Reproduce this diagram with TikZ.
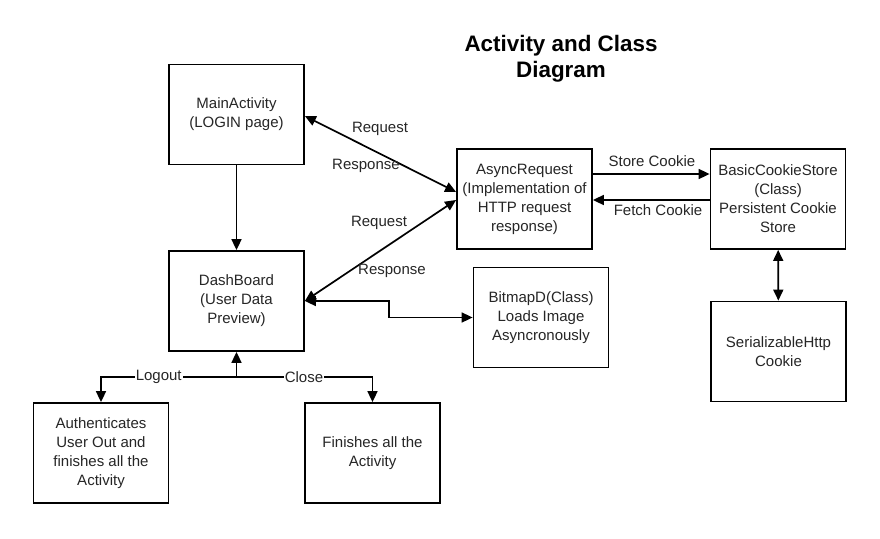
\documentclass[tikz,border=0pt]{standalone}
\usepackage{fontspec}
\setmainfont{Liberation Sans}
\usetikzlibrary{arrows.meta, positioning}
\tikzset{
  box/.style={
    draw=black, line width=1.8pt, fill=white, align=center, inner sep=2pt,
    font=\fontsize{15}{19}\selectfont, text=black!85,
    minimum width=135pt, minimum height=100pt
  },
  flow/.style={-{Triangle[length=11pt,width=10pt]}, line width=1.7pt, draw=black},
  flowb/.style={{Triangle[length=11pt,width=10pt]}-{Triangle[length=11pt,width=10pt]}, line width=1.7pt, draw=black},
  lbl/.style={font=\fontsize{15}{19}\selectfont, text=black!85, inner sep=1pt},
  ttl/.style={font=\bfseries\fontsize{22.4}{26}\selectfont, align=center},
}

\begin{document}
\begin{tikzpicture}[x=1pt, y=-1pt]
  \useasboundingbox (0,0) rectangle (880,538);
  \node[ttl] (title) at (561,59) {Activity and Class\\Diagram};

  \node[box] (main)   at (236.5,114.5) {MainActivity\\(LOGIN page)};
  \node[box] (dash)   at (236.5,301)   {DashBoard\\(User Data\\Preview)};
  \node[box] (async)  at (524.5,199)   {AsyncRequest\\(Implementation of\\HTTP request\\response)};
  \node[box] (bitmap) at (541,317.5)   {BitmapD(Class)\\Loads Image\\Asyncronously};
  \node[box] (cookie) at (778,199)     {BasicCookieStore\\(Class)\\Persistent Cookie\\Store};
  \node[box] (serial) at (778.5,351.5) {SerializableHttp\\Cookie};
  \node[box] (logout) at (101,453)     {Authenticates\\User Out and\\finishes all the\\Activity};
  \node[box] (finish) at (372.5,453)   {Finishes all the\\Activity};

  \draw[flow]  (main) -- (dash);
  \draw[flowb] ([yshift=-1.5pt]main.east) -- ([yshift=7pt]async.west);
  \draw[flowb] (dash.east) -- ([yshift=-1pt]async.west);
  \draw[flowb] (dash.east) -- ++(84,0) |- (bitmap.west);
  \draw[flow]  ([yshift=25pt]async.east) -- ([yshift=25pt]cookie.west);
  \draw[flow]  ([yshift=-1pt]cookie.west) -- ([yshift=-1pt]async.east);
  \draw[flowb] (cookie) -- (serial);

  \node[lbl] (req1)  at (380,129) {Request};
  \node[lbl] (resp1) at (366,166) {Response};
  \node[lbl] (req2)  at (379,223) {Request};
  \node[lbl] (resp2) at (392,271) {Response};
  \node[lbl] (store) at (652,161) {Store Cookie};
  \node[lbl] (fetch) at (658,210) {Fetch Cookie};

  \coordinate (junc) at (236.5,377);
  \draw[flow] (junc) -- (dash);
  \draw[flow] (junc) -| node[lbl, fill=white, pos=0.287] (out) {Logout} (logout);
  \draw[flow] (junc) -| node[lbl, fill=white, pos=0.248] (cls) {Close} (finish);
\end{tikzpicture}
\end{document}
